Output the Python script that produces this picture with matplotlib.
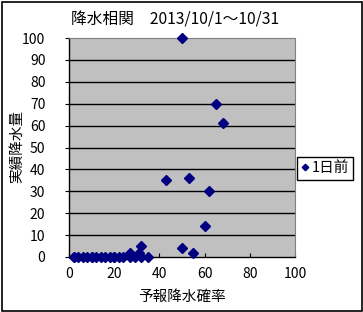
import matplotlib
matplotlib.use('Agg')
import matplotlib.pyplot as plt
from matplotlib.patches import Rectangle

plt.rcParams['font.family'] = ['Noto Sans CJK JP', 'DejaVu Sans']

# 予報降水確率 (%) と 実績降水量 (mm), 2013/10/1-10/31
forecast = [50, 65, 68, 43, 53, 62, 60, 50, 55,
            27, 31, 32,
            2, 4, 6, 8, 10, 12, 14, 16, 18, 20, 22, 24, 27, 29, 32, 35, 2, 10, 20]
actual = [100, 70, 61, 35, 36, 30, 14, 4, 2,
          2, 2, 5,
          0, 0, 0, 0, 0, 0, 0, 0, 0, 0, 0, 0, 0, 0, 0, 0, 0, 0, 0]
series_name = '1日前'
x_ticks = [0, 20, 40, 60, 80, 100]
y_ticks = list(range(0, 101, 10))

W, H = 363, 312
fig = plt.figure(figsize=(W / 100, H / 100), dpi=100)
fig.patch.set_facecolor('white')
fig.patches.append(Rectangle((1.5 / W, 1.5 / H), (W - 3) / W, (H - 3) / H,
                             transform=fig.transFigure, fill=False,
                             edgecolor='black', linewidth=1.2))

ax = fig.add_axes([69 / W, 1 - 257 / H, (295 - 69) / W, (257 - 38) / H])
ax.set_facecolor('#C0C0C0')
ax.set_xlim(0, 100)
ax.set_ylim(0, 100)
ax.set_xticks(x_ticks)
ax.set_yticks(y_ticks)
for yv in y_ticks[1:-1]:
    ax.axhline(yv, color='black', linewidth=1.0, zorder=1)

ax.plot(forecast, actual, linestyle='none', marker='D', markersize=5.5,
        color='#000080', label=series_name, zorder=3, clip_on=False)

for side in ['top', 'right']:
    ax.spines[side].set_color('#808080')
    ax.spines[side].set_linestyle((0, (2, 1)))
    ax.spines[side].set_linewidth(0.8)
for side in ['left', 'bottom']:
    ax.spines[side].set_color('black')
    ax.spines[side].set_linewidth(1.0)

ax.tick_params(axis='x', direction='in', length=3, pad=7, labelsize=10)
ax.tick_params(axis='y', direction='out', length=3, pad=14, labelsize=10)

fig.text(175 / W, 1 - 20 / H, '降水相関　2013/10/1～10/31', ha='center', va='center', fontsize=11.3)
fig.text(182 / W, 1 - 297 / H, '予報降水確率', ha='center', va='center', fontsize=10.5)
fig.text(17 / W, 1 - 146 / H, '実績降水量', ha='center', va='center', rotation=90, fontsize=10.5)

leg = fig.legend(loc='upper left', bbox_to_anchor=(297 / W, 1 - 157 / H),
                 frameon=True, fancybox=False, edgecolor='black', framealpha=1,
                 fontsize=10.5, handlelength=0.5, handletextpad=0.2,
                 borderpad=0.3, borderaxespad=0, markerscale=0.6)
leg.get_frame().set_linewidth(1.0)

fig.savefig('out.png', dpi=100)
